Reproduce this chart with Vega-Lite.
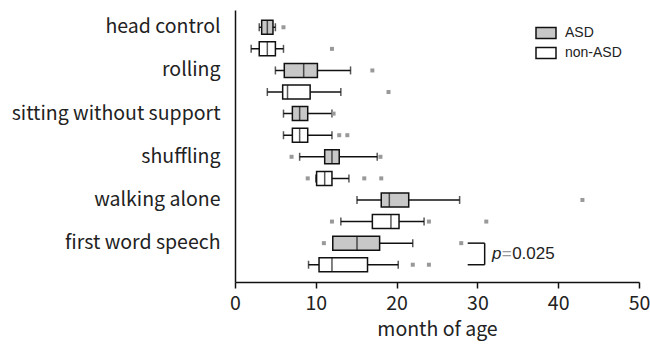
{
  "$schema": "https://vega.github.io/schema/vega-lite/v6.json",
  "width": 404,
  "height": 272,
  "autosize": {"type": "none"},
  "padding": {"left": 235, "top": 10, "right": 11, "bottom": 62},
  "config": {
    "view": {"stroke": null},
    "font": "Noto Sans CJK JP",
    "axis": {
      "domainColor": "#111",
      "domainWidth": 1.5,
      "tickColor": "#111",
      "tickWidth": 1.5,
      "labelColor": "#222",
      "titleColor": "#222",
      "labelFont": "Noto Sans CJK JP",
      "titleFont": "Noto Sans CJK JP",
      "grid": false
    }
  },
  "datasets": {
    "boxes": [
      {"row": "head control|ASD", "grp": "ASD", "lo": 3.0, "q1": 3.3, "med": 4.0, "q3": 4.7, "hi": 5.0},
      {"row": "head control|non-ASD", "grp": "non-ASD", "lo": 2.0, "q1": 3.0, "med": 4.0, "q3": 5.0, "hi": 6.0},
      {"row": "rolling|ASD", "grp": "ASD", "lo": 5.0, "q1": 6.1, "med": 8.5, "q3": 10.2, "hi": 14.3},
      {"row": "rolling|non-ASD", "grp": "non-ASD", "lo": 4.0, "q1": 5.9, "med": 6.5, "q3": 9.3, "hi": 13.1},
      {"row": "sitting without support|ASD", "grp": "ASD", "lo": 6.0, "q1": 7.1, "med": 8.0, "q3": 9.0, "hi": 12.0},
      {"row": "sitting without support|non-ASD", "grp": "non-ASD", "lo": 6.0, "q1": 7.1, "med": 8.0, "q3": 9.0, "hi": 12.0},
      {"row": "shuffling|ASD", "grp": "ASD", "lo": 8.0, "q1": 11.1, "med": 12.0, "q3": 12.9, "hi": 17.6},
      {"row": "shuffling|non-ASD", "grp": "non-ASD", "lo": 10.0, "q1": 10.1, "med": 11.1, "q3": 12.0, "hi": 14.1},
      {"row": "walking alone|ASD", "grp": "ASD", "lo": 15.1, "q1": 18.1, "med": 19.1, "q3": 21.5, "hi": 27.8},
      {"row": "walking alone|non-ASD", "grp": "non-ASD", "lo": 13.1, "q1": 17.0, "med": 19.3, "q3": 20.3, "hi": 23.4},
      {"row": "first word speech|ASD", "grp": "ASD", "lo": 12.1, "q1": 12.1, "med": 15.1, "q3": 17.9, "hi": 22.0},
      {"row": "first word speech|non-ASD", "grp": "non-ASD", "lo": 9.1, "q1": 10.4, "med": 12.0, "q3": 16.4, "hi": 20.2}
    ],
    "outliers": [
      {"row": "head control|ASD", "v": 6.0},
      {"row": "head control|non-ASD", "v": 12.0},
      {"row": "rolling|ASD", "v": 17.0},
      {"row": "rolling|non-ASD", "v": 19.0},
      {"row": "sitting without support|ASD", "v": 12.2},
      {"row": "sitting without support|non-ASD", "v": 12.9},
      {"row": "sitting without support|non-ASD", "v": 13.9},
      {"row": "shuffling|ASD", "v": 7.0},
      {"row": "shuffling|ASD", "v": 18.0},
      {"row": "shuffling|non-ASD", "v": 9.0},
      {"row": "shuffling|non-ASD", "v": 16.0},
      {"row": "shuffling|non-ASD", "v": 18.1},
      {"row": "walking alone|ASD", "v": 43.0},
      {"row": "walking alone|non-ASD", "v": 12.0},
      {"row": "walking alone|non-ASD", "v": 24.0},
      {"row": "walking alone|non-ASD", "v": 31.1},
      {"row": "first word speech|ASD", "v": 11.0},
      {"row": "first word speech|ASD", "v": 28.0},
      {"row": "first word speech|non-ASD", "v": 22.0},
      {"row": "first word speech|non-ASD", "v": 24.0}
    ],
    "bracketH": [
      {"row": "first word speech|ASD", "x": 28.8, "x2": 30.9},
      {"row": "first word speech|non-ASD", "x": 28.8, "x2": 30.9}
    ],
    "bracketV": [
      {"row": "first word speech|ASD", "row2": "first word speech|non-ASD", "x": 30.9}
    ],
    "ptextP": [
      {"row": "first word speech|ASD", "x": 31.8, "label": "p"}
    ],
    "ptextEq": [
      {"row": "first word speech|ASD", "x": 33.0, "label": "="}
    ],
    "ptextNum": [
      {"row": "first word speech|ASD", "x": 34.3, "label": "0.025"}
    ]
  },
  "layer": [
    {
      "data": {"name": "boxes"},
      "mark": {"type": "rule", "color": "#111", "strokeWidth": 1.5},
      "encoding": {
        "y": {
          "field": "row",
          "type": "nominal",
          "scale": {
            "domain": [
              "head control|ASD", "head control|non-ASD",
              "rolling|ASD", "rolling|non-ASD",
              "sitting without support|ASD", "sitting without support|non-ASD",
              "shuffling|ASD", "shuffling|non-ASD",
              "walking alone|ASD", "walking alone|non-ASD",
              "first word speech|ASD", "first word speech|non-ASD"
            ],
            "paddingInner": 0,
            "paddingOuter": 0.3
          },
          "axis": {
            "title": null,
            "ticks": false,
            "labelPadding": 15,
            "labelFontSize": 19.5,
            "labelLimit": 0,
            "labelExpr": "split(datum.value, '|')[1] == 'ASD' ? split(datum.value, '|')[0] : ''"
          }
        },
        "x": {
          "field": "lo",
          "type": "quantitative",
          "scale": {"domain": [0, 50], "nice": false, "zero": true},
          "axis": {
            "title": "month of age",
            "values": [0, 10, 20, 30, 40, 50],
            "labelFlush": false,
            "tickSize": 6,
            "labelFontSize": 19.5,
            "labelPadding": 6,
            "titleFontSize": 19.5,
            "titleFontWeight": "normal",
            "titlePadding": 8
          }
        },
        "x2": {"field": "hi"}
      }
    },
    {
      "data": {"name": "boxes"},
      "mark": {"type": "tick", "color": "#111", "size": 8, "thickness": 1.5, "orient": "vertical"},
      "encoding": {
        "y": {"field": "row", "type": "nominal"},
        "x": {"field": "lo", "type": "quantitative"}
      }
    },
    {
      "data": {"name": "boxes"},
      "mark": {"type": "tick", "color": "#111", "size": 8, "thickness": 1.5, "orient": "vertical"},
      "encoding": {
        "y": {"field": "row", "type": "nominal"},
        "x": {"field": "hi", "type": "quantitative"}
      }
    },
    {
      "data": {"name": "boxes"},
      "mark": {"type": "bar", "stroke": "#111", "strokeWidth": 1.5, "height": 14},
      "encoding": {
        "y": {"field": "row", "type": "nominal"},
        "x": {"field": "q1", "type": "quantitative"},
        "x2": {"field": "q3"},
        "fill": {
          "field": "grp",
          "type": "nominal",
          "scale": {"domain": ["ASD", "non-ASD"], "range": ["#c8c8c8", "#ffffff"]},
          "legend": {
            "title": null,
            "orient": "none",
            "legendX": 300,
            "legendY": 12,
            "padding": 0,
            "rowPadding": 0,
            "symbolType": "M-1,-0.55H1V0.55H-1Z",
            "symbolSize": 400,
            "symbolStrokeColor": "#111",
            "symbolStrokeWidth": 1.5,
            "symbolOpacity": 1,
            "labelFontSize": 14,
            "labelOffset": 8,
            "labelColor": "#222",
            "labelFont": "Liberation Sans"
          }
        }
      }
    },
    {
      "data": {"name": "boxes"},
      "mark": {"type": "tick", "color": "#111", "size": 14, "thickness": 1.5, "orient": "vertical"},
      "encoding": {
        "y": {"field": "row", "type": "nominal"},
        "x": {"field": "med", "type": "quantitative"}
      }
    },
    {
      "data": {"name": "outliers"},
      "mark": {"type": "point", "shape": "square", "filled": true, "color": "#999999", "size": 16, "opacity": 1},
      "encoding": {
        "y": {"field": "row", "type": "nominal"},
        "x": {"field": "v", "type": "quantitative"}
      }
    },
    {
      "data": {"name": "bracketH"},
      "mark": {"type": "rule", "color": "#111", "strokeWidth": 1.5},
      "encoding": {
        "y": {"field": "row", "type": "nominal"},
        "x": {"field": "x", "type": "quantitative"},
        "x2": {"field": "x2"}
      }
    },
    {
      "data": {"name": "bracketV"},
      "mark": {"type": "rule", "color": "#111", "strokeWidth": 1.5},
      "encoding": {
        "y": {"field": "row", "type": "nominal", "bandPosition": 0.5},
        "y2": {"field": "row2", "bandPosition": 0.5},
        "x": {"field": "x", "type": "quantitative"}
      }
    },
    {
      "data": {"name": "ptextP"},
      "mark": {"type": "text", "align": "left", "baseline": "middle", "fontSize": 17, "font": "Liberation Sans", "fontStyle": "italic", "color": "#222", "dy": 11},
      "encoding": {
        "y": {"field": "row", "type": "nominal"},
        "x": {"field": "x", "type": "quantitative"},
        "text": {"field": "label"}
      }
    },
    {
      "data": {"name": "ptextEq"},
      "mark": {"type": "text", "align": "left", "baseline": "middle", "fontSize": 17, "font": "Liberation Sans", "color": "#999", "dy": 11},
      "encoding": {
        "y": {"field": "row", "type": "nominal"},
        "x": {"field": "x", "type": "quantitative"},
        "text": {"field": "label"}
      }
    },
    {
      "data": {"name": "ptextNum"},
      "mark": {"type": "text", "align": "left", "baseline": "middle", "fontSize": 17, "font": "Liberation Sans", "color": "#222", "dy": 11},
      "encoding": {
        "y": {"field": "row", "type": "nominal"},
        "x": {"field": "x", "type": "quantitative"},
        "text": {"field": "label"}
      }
    }
  ]
}
